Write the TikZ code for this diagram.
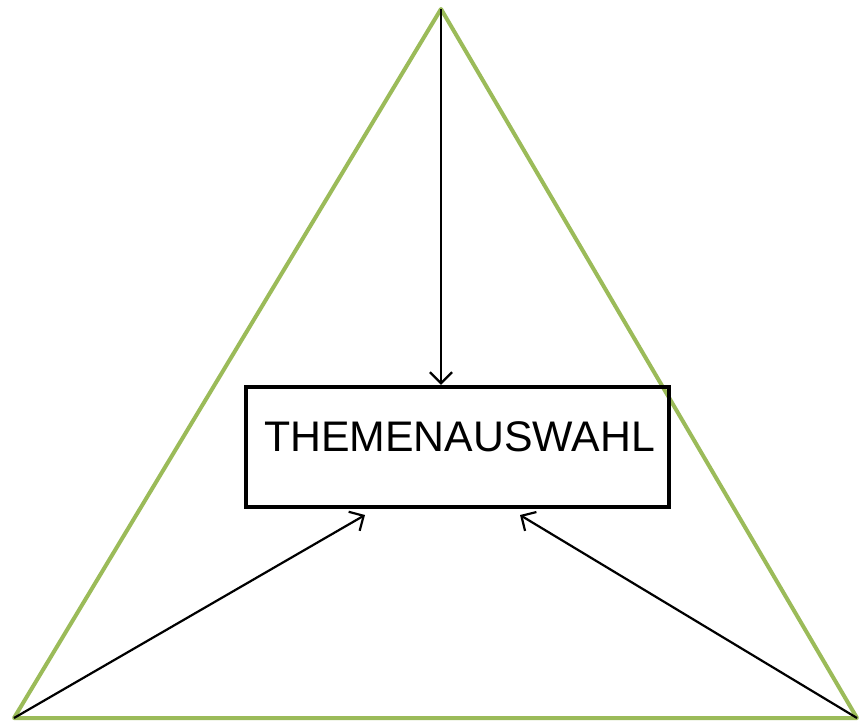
\documentclass[tikz,border=0pt]{standalone}
\usepackage{fontspec}
\setmainfont{Liberation Sans}
\usetikzlibrary{arrows.meta}
\definecolor{tri}{HTML}{9BBB59}
\tikzset{
  tri/.style={draw=tri, line width=4pt, line join=round},
  arr/.style={draw=black, line width=2.2pt, -{Straight Barb[length=11pt,width=22pt,line width=2.2pt]}},
  box/.style={draw=black, line width=4.5pt, minimum width=423pt, minimum height=120pt, inner sep=0pt},
  lbl/.style={font=\fontsize{42.8}{50}\selectfont, inner sep=0pt, anchor=base}
}
\begin{document}
\begin{tikzpicture}[x=1pt,y=-1pt]
\useasboundingbox (0,0) rectangle (859,721);
\coordinate (top) at (441,9);
\coordinate (bl) at (14,718);
\coordinate (br) at (857,718);
\draw[tri] (top) -- (bl) -- (br) -- cycle;
\node[box] (box) at (457.5,447) {};
\node[lbl] (t) at (459.5,451) {THEMENAUSWAHL};
\coordinate (tl) at (365,515);
\coordinate (tr) at (520,515);
\draw[arr] (top) -- (top |- box.north);
\draw[arr] (bl) -- (tl);
\draw[arr] (br) -- (tr);
\end{tikzpicture}
\end{document}
